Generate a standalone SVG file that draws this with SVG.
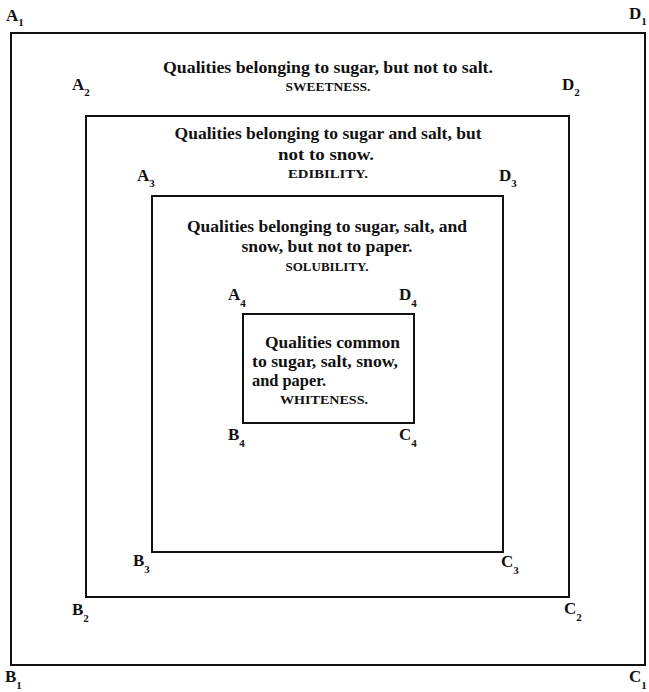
<svg xmlns="http://www.w3.org/2000/svg" width="649" height="692" viewBox="0 0 649 692">
<style>
.box{fill:none;stroke:#111;stroke-width:2}
.lbl{font-family:"Liberation Serif",serif;font-weight:bold;font-size:17px;fill:#111}
.sub{font-size:11px}
.t{font-family:"Liberation Serif",serif;font-weight:bold;font-size:16px;fill:#111;text-anchor:middle}
.tl{font-family:"Liberation Serif",serif;font-weight:bold;font-size:16px;fill:#111}
.sc{font-family:"Liberation Serif",serif;font-weight:bold;font-size:11.5px;fill:#111;text-anchor:middle}
.scl{font-family:"Liberation Serif",serif;font-weight:bold;font-size:11.5px;fill:#111}
</style>
<rect width="649" height="692" fill="#fff"/>
<g id="square1">
<rect class="box" x="11" y="33" width="634" height="632"/>
<text class="lbl" x="6" y="21">A<tspan class="sub" dy="5">1</tspan></text>
<text class="lbl" x="629" y="19">D<tspan class="sub" dy="6">1</tspan></text>
<text class="lbl" x="5" y="682">B<tspan class="sub" dy="7">1</tspan></text>
<text class="lbl" x="629" y="682">C<tspan class="sub" dy="7">1</tspan></text>
<text class="t" x="328" y="73" textLength="330" lengthAdjust="spacingAndGlyphs">Qualities belonging to sugar, but not to salt.</text>
<text class="sc" x="328" y="91" textLength="85" lengthAdjust="spacingAndGlyphs">SWEETNESS.</text>
</g>
<g id="square2">
<rect class="box" x="86" y="116" width="483" height="481"/>
<text class="lbl" x="72" y="90">A<tspan class="sub" dy="6">2</tspan></text>
<text class="lbl" x="562" y="90">D<tspan class="sub" dy="6">2</tspan></text>
<text class="lbl" x="72" y="615">B<tspan class="sub" dy="7">2</tspan></text>
<text class="lbl" x="564" y="614">C<tspan class="sub" dy="7">2</tspan></text>
<text class="t" x="328" y="139" textLength="307" lengthAdjust="spacingAndGlyphs">Qualities belonging to sugar and salt, but</text>
<text class="t" x="326" y="160" textLength="96" lengthAdjust="spacingAndGlyphs">not to snow.</text>
<text class="sc" x="328" y="178" textLength="80" lengthAdjust="spacingAndGlyphs">EDIBILITY.</text>
</g>
<g id="square3">
<rect class="box" x="152" y="196" width="351" height="356"/>
<text class="lbl" x="137" y="181">A<tspan class="sub" dy="6">3</tspan></text>
<text class="lbl" x="499" y="181">D<tspan class="sub" dy="6">3</tspan></text>
<text class="lbl" x="133" y="566">B<tspan class="sub" dy="7">3</tspan></text>
<text class="lbl" x="501" y="567">C<tspan class="sub" dy="7">3</tspan></text>
<text class="t" x="327" y="232" textLength="280" lengthAdjust="spacingAndGlyphs">Qualities belonging to sugar, salt, and</text>
<text class="t" x="327" y="252" textLength="171" lengthAdjust="spacingAndGlyphs">snow, but not to paper.</text>
<text class="sc" x="327" y="271" textLength="83" lengthAdjust="spacingAndGlyphs">SOLUBILITY.</text>
</g>
<g id="square4">
<rect class="box" x="243" y="314" width="171" height="109"/>
<text class="lbl" x="228" y="300">A<tspan class="sub" dy="7">4</tspan></text>
<text class="lbl" x="399" y="300">D<tspan class="sub" dy="7">4</tspan></text>
<text class="lbl" x="228" y="440">B<tspan class="sub" dy="7">4</tspan></text>
<text class="lbl" x="399" y="440">C<tspan class="sub" dy="7">4</tspan></text>
<text class="tl" x="265" y="348" textLength="135" lengthAdjust="spacingAndGlyphs">Qualities common</text>
<text class="tl" x="252" y="367" textLength="146" lengthAdjust="spacingAndGlyphs">to sugar, salt, snow,</text>
<text class="tl" x="252" y="386" textLength="74" lengthAdjust="spacingAndGlyphs">and paper.</text>
<text class="scl" x="280" y="404" textLength="88" lengthAdjust="spacingAndGlyphs">WHITENESS.</text>
</g>
<g id="connectors"></g>
</svg>
